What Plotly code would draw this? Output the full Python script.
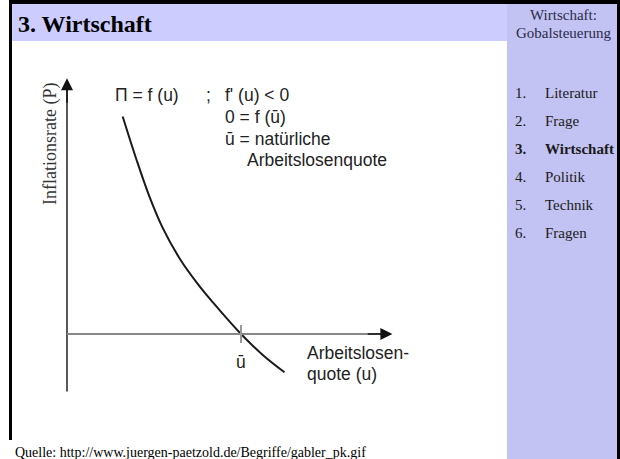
import plotly.graph_objects as go

# Phillips curve (u = unemployment, pi = inflation)
curve_u = [3.2, 4.0, 4.7, 5.5, 6.5, 7.5, 8.4, 9.4, 10.0, 11.3, 12.5]
curve_pi = [12.5, 10.0, 8.0, 6.1, 4.3, 2.9, 1.8, 0.65, 0.0, -1.25, -2.2]
u_bar = 10.0
x_axis_end = 18.7
y_axis_top = 14.7
y_axis_bottom = -3.3

nav_numbers = ['1.', '2.', '3.', '4.', '5.', '6.']
nav_items = ['Literatur', 'Frage', 'Wirtschaft', 'Politik', 'Technik', 'Fragen']
active_item = 'Wirtschaft'

W, H = 620, 459
SCALE = 17.4          # pixels per data unit
ORIGIN = (67, 334)    # pixel position of the axis crossing

SERIF = 'Liberation Serif, Times New Roman, serif'
SANS = 'Liberation Sans, Arial, sans-serif'


def px(x):
    return x / W


def py(y):
    return 1 - y / H


fig = go.Figure()

fig.add_trace(go.Scatter(x=curve_u, y=curve_pi, mode='lines',
                         line=dict(color='#1a1a1a', width=2, shape='spline', smoothing=1.0),
                         hoverinfo='skip'))
# y axis line (extends below the x axis)
fig.add_trace(go.Scatter(x=[0, 0], y=[y_axis_bottom, y_axis_top - 0.6], mode='lines',
                         line=dict(color='#222222', width=1.5), hoverinfo='skip'))
# x axis line
fig.add_trace(go.Scatter(x=[0, x_axis_end - 0.6], y=[0, 0], mode='lines',
                         line=dict(color='#888888', width=2), hoverinfo='skip'))
# tick at u bar
fig.add_trace(go.Scatter(x=[u_bar, u_bar], y=[-0.52, 0.52], mode='lines',
                         line=dict(color='#999999', width=2), hoverinfo='skip'))

shapes = [
    # slide frame
    dict(type='rect', xref='paper', yref='paper', x0=px(9), x1=px(620), y0=py(4), y1=py(0),
         fillcolor='black', line_width=0, layer='below'),
    dict(type='rect', xref='paper', yref='paper', x0=px(9), x1=px(12), y0=py(440), y1=py(0),
         fillcolor='black', line_width=0, layer='below'),
    dict(type='rect', xref='paper', yref='paper', x0=px(617), x1=px(620), y0=py(459), y1=py(0),
         fillcolor='black', line_width=0, layer='below'),
    # title bar
    dict(type='rect', xref='paper', yref='paper', x0=px(12), x1=px(507), y0=py(41), y1=py(4),
         fillcolor='#ccccff', line_width=0, layer='below'),
    # sidebar
    dict(type='rect', xref='paper', yref='paper', x0=px(507), x1=px(617), y0=py(459), y1=py(4),
         fillcolor='#c3c3f3', line_width=0, layer='below'),
]

annotations = []


def text(x, y, s, size, font=SERIF, color='black', anchor='left', angle=0):
    annotations.append(dict(x=px(x), y=py(y), xref='paper', yref='paper', text=s,
                            showarrow=False, xanchor=anchor, yanchor='middle',
                            textangle=angle, font=dict(family=font, size=size, color=color)))


# arrow heads
annotations.append(dict(x=0, y=y_axis_top, ax=0, ay=y_axis_top - 1.5, xref='x', yref='y',
                        axref='x', ayref='y', text='', showarrow=True, arrowhead=2,
                        arrowsize=1.6, arrowwidth=1.5, arrowcolor='#111111'))
annotations.append(dict(x=x_axis_end, y=0, ax=x_axis_end - 1.5, ay=0, xref='x', yref='y',
                        axref='x', ayref='y', text='', showarrow=True, arrowhead=2,
                        arrowsize=1.6, arrowwidth=1.5, arrowcolor='#111111'))

text(16, 24, '<b>3. Wirtschaft</b>', 24)
text(563, 15, 'Wirtschaft:', 15, color='#2a2a4a', anchor='center')
text(563, 33, 'Gobalsteuerung', 15, color='#2a2a4a', anchor='center')
for i, (num, item) in enumerate(zip(nav_numbers, nav_items)):
    y = 93 + 28 * i
    if item == active_item:
        num, item = '<b>' + num + '</b>', '<b>' + item + '</b>'
    text(513, y, num, 15, color='#1a1a1a')
    text(543, y, item, 15, color='#1a1a1a')

text(13, 452, 'Quelle: http://www.juergen-paetzold.de/Begriffe/gabler_pk.gif', 14)

text(50, 144, 'Inflationsrate (P)', 18, color='#333333', anchor='center', angle=-90)
SZ = 17.5
text(113, 95, 'Π = f (u)', SZ, font=SANS, color='#222222')
text(204, 95, ';', SZ, font=SANS, color='#222222')
text(223, 95, "f' (u) < 0", SZ, font=SANS, color='#222222')
text(223, 117, '0 = f (ū)', SZ, font=SANS, color='#222222')
text(223, 139, 'ū = natürliche', SZ, font=SANS, color='#222222')
text(245, 160, 'Arbeitslosenquote', SZ, font=SANS, color='#222222')
text(241, 362, 'ū', SZ, font=SANS, color='#222222', anchor='center')
text(305, 353, 'Arbeitslosen-', SZ, font=SANS, color='#222222')
text(305, 374, 'quote (u)', SZ, font=SANS, color='#222222')

fig.update_layout(
    width=W, height=H,
    margin=dict(l=0, r=0, t=0, b=0),
    paper_bgcolor='white', plot_bgcolor='rgba(0,0,0,0)',
    showlegend=False,
    shapes=shapes, annotations=annotations,
    xaxis=dict(range=[-ORIGIN[0] / SCALE, (W - ORIGIN[0]) / SCALE], visible=False, fixedrange=True),
    yaxis=dict(range=[(ORIGIN[1] - H) / SCALE, ORIGIN[1] / SCALE], visible=False, fixedrange=True),
)

# the page body has a default margin; drop it so the slide fills the window
fig.write_html('out.html', config={'displayModeBar': False},
               post_script="document.body.style.margin='0';document.body.style.overflow='hidden';")
